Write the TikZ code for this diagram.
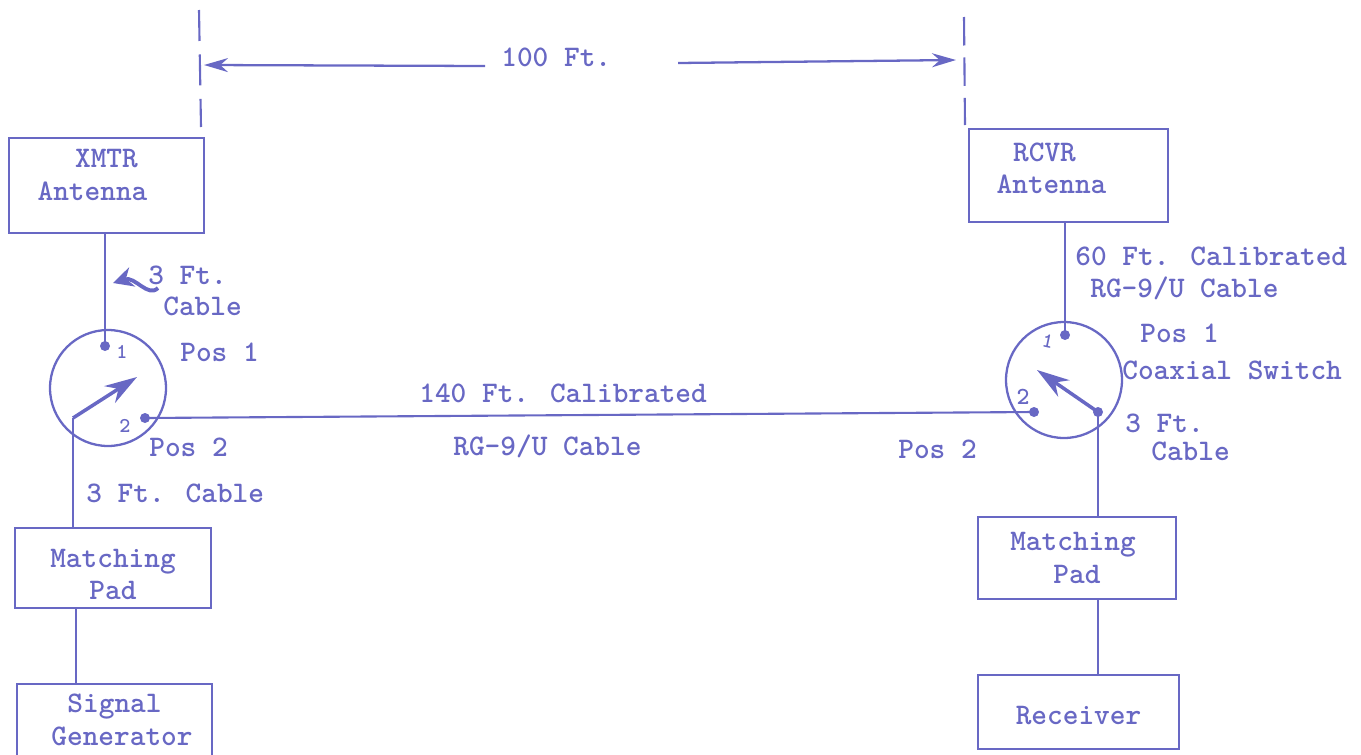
\documentclass[tikz,border=0pt]{standalone}
\usetikzlibrary{arrows.meta}
\definecolor{typeblue}{RGB}{104,104,196}
\tikzset{
    typed/.style={font=\ttfamily\bfseries\fontsize{17}{18.4}\selectfont, text=typeblue, inner sep=0pt},
    boxnode/.style={draw=typeblue, line width=1.5pt, typed, align=center},
    wire/.style={draw=typeblue, line width=1.2pt},
    switchbody/.style={circle, draw=typeblue, line width=1.3pt, minimum size=2.32cm, inner sep=0pt},
    switcharm/.style={draw=typeblue, line width=2pt, -{Stealth[length=6.5mm,width=4mm]}},
    dimline/.style={draw=typeblue, line width=1.3pt, -{Stealth[length=4.8mm,width=2.8mm]}},
    portnum/.style={font=\ttfamily\bfseries\fontsize{12}{12}\selectfont, text=typeblue, inner sep=0pt}
}
\begin{document}
\begin{tikzpicture}[x=0.02cm, y=-0.02cm]
    \useasboundingbox (0,0) rectangle (1361,754);

    % Distance markers
    \coordinate (dimlt) at (199,10);
    \coordinate (dimlb) at (201,127);
    \coordinate (dimrt) at (964,17);
    \coordinate (dimrb) at (965,125);
    \draw[wire, dash pattern=on 0.62cm off 0.27cm] (dimlt) -- (dimlb);
    \draw[wire, dash pattern=on 0.57cm off 0.24cm] (dimrt) -- (dimrb);
    \node[typed, anchor=base west] (dist) at (501,66) {100 Ft.};
    \coordinate (distl) at (485,66);
    \coordinate (distr) at (678,63);
    \coordinate (distle) at (204,65);
    \coordinate (distre) at (956,60);
    \draw[dimline] (distl) -- (distle);
    \draw[dimline] (distr) -- (distre);

    % Transmit side
    \node[boxnode, minimum width=3.9cm, minimum height=1.9cm, text depth=0.42cm] (xmtr) at (106.5,185.5) {XMTR\\Antenna\hspace*{0.56cm}};
    \node[boxnode, minimum width=3.92cm, minimum height=1.6cm, text height=1.26cm] (padl) at (113,568) {Matching\\Pad};
    \node[boxnode, minimum width=3.9cm, minimum height=1.44cm] (siggen) at (114.5,720) {Signal\\\hspace*{0.3cm}Generator};
    \node[switchbody] (swl) at (108,388) {};

    % Receive side
    \node[boxnode, minimum width=3.98cm, minimum height=1.86cm, text depth=0.3cm] (rcvr) at (1068.5,175.5) {RCVR\hspace*{0.96cm}\\Antenna\hspace*{0.68cm}};
    \node[boxnode, minimum width=3.96cm, minimum height=1.64cm] (padr) at (1077,558) {Matching\hspace*{0.16cm}\\Pad};
    \node[boxnode, minimum width=4.02cm, minimum height=1.48cm, text height=0.5cm] (recv) at (1078.5,712) {Receiver};
    \node[switchbody] (swr) at (1064,380) {};

    % Switch contacts
    \coordinate (swla) at (105,346);
    \coordinate (swlb) at (145,418);
    \coordinate (swlc) at (73,418);
    \coordinate (swra) at (1065,335);
    \coordinate (swrb) at (1034,412);
    \coordinate (swrc) at (1098,412);
    \foreach \c in {swla,swlb,swra,swrb,swrc} {
        \fill[typeblue] (\c) circle (0.1cm);
    }
    \node[portnum] (swlone) at (122,352) {1};
    \node[portnum] (swltwo) at (125,426) {2};
    \node[portnum, rotate=-12] (swrone) at (1048,341) {1};
    \node[portnum, font=\ttfamily\bfseries\fontsize{14}{14}\selectfont] (swrtwo) at (1023,397) {2};

    % Switch arms
    \coordinate (swlt) at (137,377);
    \coordinate (swrt) at (1037,370);
    \draw[switcharm] (swlc) -- (swlt);
    \draw[switcharm] (swrc) -- (swrt);

    % Cables
    \draw[wire] (xmtr.south -| swla) -- (swla);
    \draw[wire] (swlc) -- (padl.north -| swlc);
    \draw[wire] (padl.south -| 76,0) -- (siggen.north -| 76,0);
    \draw[wire] (rcvr.south -| swra) -- (swra);
    \draw[wire] (swrc) -- (padr.north -| swrc);
    \draw[wire] (padr.south -| swrc) -- (recv.north -| swrc);
    \draw[wire] (swlb) -- (swrb);

    % Cable labels
    \node[typed, anchor=base west] (lbla) at (148,284) {3 Ft.};
    \node[typed, anchor=base west] (lblb) at (163,315) {Cable};
    \node[typed, anchor=base west] (lblc) at (180,361) {Pos 1};
    \node[typed, anchor=base west] (lbld) at (149,456) {Pos 2};
    \node[typed, anchor=base west] (lble) at (86,502) {3 Ft. Cable};
    \node[typed, anchor=base west] (lblf) at (419,402) {140 Ft. Calibrated};
    \node[typed, anchor=base west] (lblg) at (453,455) {RG-9/U Cable};
    \node[typed, anchor=base west] (lblh) at (898,458) {Pos 2};
    \node[typed, anchor=base west] (lbli) at (1075,265) {60 Ft. Calibrated};
    \node[typed, anchor=base west] (lblj) at (1090,297) {RG-9/U Cable};
    \node[typed, anchor=base west] (lblk) at (1140,342) {Pos 1};
    \node[typed, anchor=base west] (lbll) at (1122,379) {Coaxial Switch};
    \node[typed, anchor=base west] (lblm) at (1125,432) {3 Ft.};
    \node[typed, anchor=base west] (lbln) at (1151,460) {Cable};

    % Hand drawn arrow by the short cable
    \coordinate (squigs) at (158,288);
    \coordinate (squige) at (113,283);
    \draw[draw=typeblue, line width=2.2pt, -{Stealth[length=4mm,width=4mm]}]
        (squigs) .. controls (148,298) and (135,276) .. (squige);
\end{tikzpicture}
\end{document}
